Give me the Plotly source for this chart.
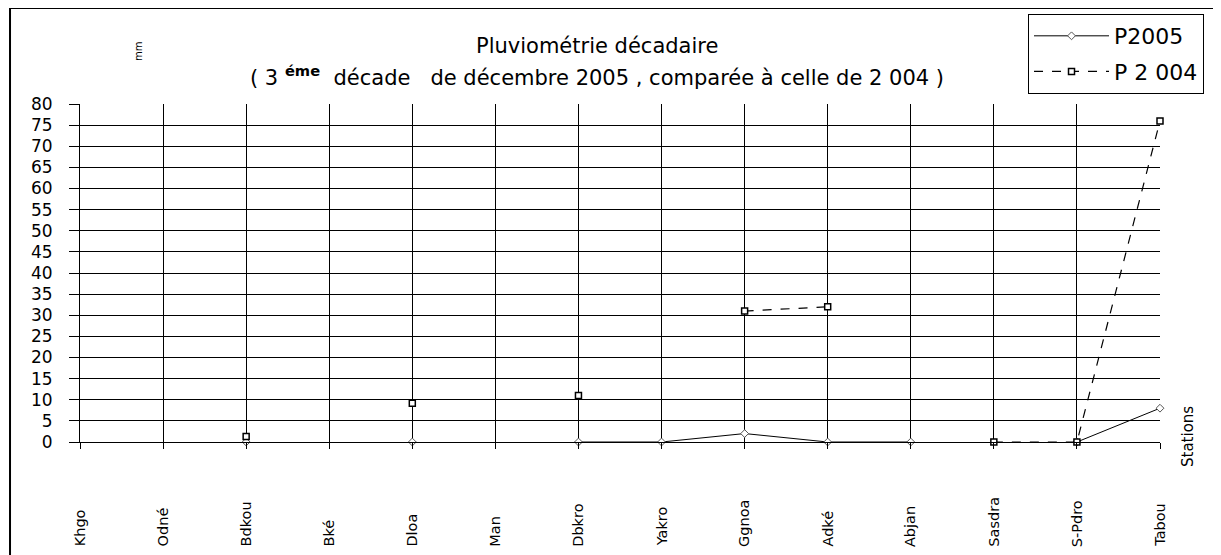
import plotly.graph_objects as go

stations = ["Khgo", "Odné", "Bdkou", "Bké", "Dloa", "Man", "Dbkro", "Yakro",
            "Ggnoa", "Adké", "Abjan", "Sasdra", "S-Pdro", "Tabou"]
p2005 = [None, None, 0, None, 0, None, 0, 0, 2, 0, 0, None, 0, 8]
p2004 = [None, None, 1.3, None, 9.2, None, 11, None, 31, 32, None, 0, 0, 76]
y_ticks = list(range(0, 81, 5))

FONT = "DejaVu Sans, Liberation Sans, sans-serif"
xs = list(range(len(stations)))

fig = go.Figure()
fig.add_trace(go.Scatter(
    x=xs, y=p2005, name="P2005", mode="lines+markers", legendgroup="a",
    line=dict(color="black", width=1), connectgaps=False,
    marker=dict(symbol="diamond", size=6, color="white",
                line=dict(color="#555", width=1)),
    cliponaxis=False))
fig.add_trace(go.Scatter(
    x=xs, y=p2004, name="P 2 004", mode="lines+markers", legendgroup="b",
    line=dict(color="black", width=1.2, dash="dash"), connectgaps=False,
    marker=dict(symbol="square", size=6, color="white",
                line=dict(color="black", width=1.5)),
    cliponaxis=False))

annotations = []
for i, s in enumerate(stations):
    annotations.append(dict(x=i, y=-0.316, xref="x", yref="paper", text=s,
                            textangle=-90, showarrow=False, xanchor="center",
                            yanchor="bottom",
                            font=dict(family=FONT, size=14.5, color="black")))
annotations += [
    dict(x=0.479, y=1.172, xref="paper", yref="paper", showarrow=False,
         text="Pluviométrie décadaire", xanchor="center", yanchor="middle",
         font=dict(family=FONT, size=21, color="black")),
    dict(x=0.479, y=1.083, xref="paper", yref="paper", showarrow=False,
         text="( 3 <sup><b>éme</b></sup>  décade   de décembre 2005 , comparée à celle de 2 004 )",
         xanchor="center", yanchor="middle",
         font=dict(family=FONT, size=21, color="black")),
    dict(x=0.054, y=1.155, xref="paper", yref="paper", showarrow=False,
         text="mm", textangle=-90, xanchor="center", yanchor="middle",
         font=dict(family=FONT, size=10, color="black")),
    dict(x=1.026, y=0.015, xref="paper", yref="paper", showarrow=False,
         text="Stations", textangle=-90, xanchor="center", yanchor="middle",
         font=dict(family=FONT, size=15, color="black")),
]

fig.update_layout(
    width=1213, height=547,
    margin=dict(l=72, r=61, t=96, b=113, autoexpand=False),
    paper_bgcolor="white", plot_bgcolor="white",
    font=dict(family=FONT, size=17, color="black"),
    showlegend=True,
    legend=dict(x=0.8409, y=0.989, xref="container", yref="container",
                xanchor="left", yanchor="top",
                bordercolor="black", borderwidth=1, bgcolor="white",
                font=dict(family=FONT, size=22, color="black"),
                itemwidth=75, tracegroupgap=4),
    annotations=annotations,
    shapes=[dict(type="rect", xref="paper", yref="paper",
                 x0=-0.0648, x1=1.0537, y0=-0.6, y1=1.284,
                 line=dict(color="black", width=2), layer="below")],
)
fig.update_xaxes(range=[0, len(stations) - 1], tickvals=xs,
                 showticklabels=False, ticks="outside", ticklen=6,
                 tickcolor="black", showgrid=True, gridcolor="black",
                 gridwidth=1, showline=True, linecolor="black", zeroline=False)
fig.update_yaxes(range=[0, 80], tickvals=y_ticks, ticks="outside", ticklen=10,
                 tickcolor="black", showgrid=True, gridcolor="black",
                 gridwidth=1, showline=True, linecolor="black",
                 zeroline=False, ticklabelstandoff=13,
                 tickfont=dict(family=FONT, size=17, color="black"))

fig.write_html("out.html")
